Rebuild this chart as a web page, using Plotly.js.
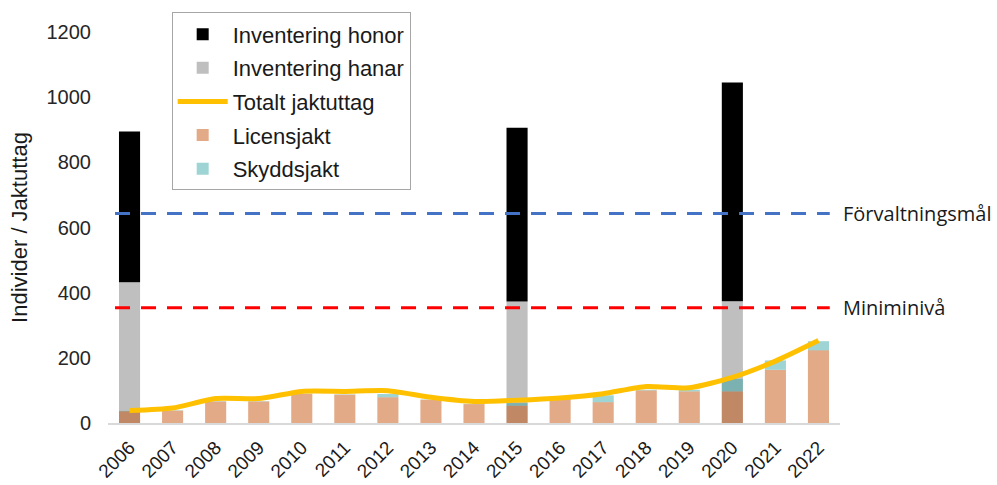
<!DOCTYPE html>
<html><head><meta charset="utf-8">
<script src="https://cdn.plot.ly/plotly-3.0.1.min.js"></script>
<style>html,body{margin:0;padding:0;background:#fff}#chart{width:997px;height:485px}</style>
</head><body><div id="chart"></div>
<script>
const years = ['2006','2007','2008','2009','2010','2011','2012','2013','2014','2015','2016','2017','2018','2019','2020','2021','2022'];
const inventeringHanar = [432,null,null,null,null,null,null,null,null,373,null,null,null,null,374,null,null];
const inventeringHonor = [463,null,null,null,null,null,null,null,null,533,null,null,null,null,671,null,null];
const licensjakt = [36,38,66,66,89,87,79,71,58,53,74,64,100,97,97,163,223];
const skyddsjakt = [1,1,1,1,1,1,10,1,1,8,1,21,2,5,38,29,28];
const totaltJaktuttag = [38,46,75,75,97,97,99,79,66,70,77,90,112,108,140,190,253];
const forvaltningsmal = 643;
const miniminiva = 354;

const W = 0.49;
const honorBase = inventeringHanar.map(v => v);
const skyddsBase = licensjakt.map(v => v);

const traces = [
  {type:'bar', name:'Inventering hanar', x:years, y:inventeringHanar, width:W,
   marker:{color:'#BFBFBF'}, legendrank:2, legendgroup:'b', hoverinfo:'skip'},
  {type:'bar', name:'Inventering honor', x:years, y:inventeringHonor, base:honorBase, width:W,
   marker:{color:'#000000'}, legendrank:1, legendgroup:'a', hoverinfo:'skip'},
  {type:'bar', name:'Licensjakt', x:years, y:licensjakt, width:W,
   marker:{color:'rgba(195,78,5,0.48)'}, legendrank:4, legendgroup:'d', hoverinfo:'skip'},
  {type:'bar', name:'Skyddsjakt', x:years, y:skyddsjakt, base:skyddsBase, width:W,
   marker:{color:'rgba(40,160,160,0.45)'}, legendrank:5, legendgroup:'e', hoverinfo:'skip'},
  {type:'scatter', mode:'lines', name:'Totalt jaktuttag', x:years, y:totaltJaktuttag,
   line:{color:'#FFC000', width:5, shape:'spline', smoothing:0.6}, legendrank:3, legendgroup:'c', hoverinfo:'skip'}
];

const layout = {
  width:997, height:485,
  margin:{l:108, r:157, t:32, b:62},
  paper_bgcolor:'#fff', plot_bgcolor:'#fff',
  barmode:'overlay',
  showlegend:true,
  font:{family:'Liberation Sans, Arial, sans-serif', color:'#262626'},
  legend:{x:0.087, y:1.05, xanchor:'left', yanchor:'top', bgcolor:'#fff',
    bordercolor:'#A6A6A6', borderwidth:1, font:{size:22, color:'#1a1a1a'},
    traceorder:'grouped', tracegroupgap:2, itemwidth:50},
  xaxis:{type:'category', categoryorder:'array', categoryarray:years, range:[-0.5,16.5],
    tickangle:-45, tickfont:{size:19, color:'#1a1a1a'}, showline:true, linecolor:'#D9D9D9', linewidth:2,
    showgrid:false, zeroline:false, ticks:'', ticklabelstandoff:4},
  yaxis:{range:[0,1200], dtick:200, tickfont:{size:20, color:'#262626'}, showgrid:false, zeroline:false,
    showline:false, ticks:'', ticklabelstandoff:16,
    title:{text:'Individer / Jaktuttag', font:{size:22, color:'#1a1a1a'}, standoff:12}},
  shapes:[
    {type:'line', xref:'paper', yref:'y', x0:0.0096, x1:0.986, y0:forvaltningsmal, y1:forvaltningsmal,
     line:{color:'#4472C4', width:3, dash:'15px,11px'}},
    {type:'line', xref:'paper', yref:'y', x0:0.0096, x1:0.986, y0:miniminiva, y1:miniminiva,
     line:{color:'#FF0000', width:3, dash:'15px,11px'}}
  ],
  annotations:[
    {xref:'paper', yref:'y', x:1.002, y:forvaltningsmal, xanchor:'left', yanchor:'middle', showarrow:false,
     text:'Förvaltningsmål', font:{family:'Open Sans, sans-serif', size:20, color:'#1a1a1a'}},
    {xref:'paper', yref:'y', x:1.002, y:miniminiva, xanchor:'left', yanchor:'middle', showarrow:false,
     text:'Miniminivå', font:{family:'Open Sans, sans-serif', size:20, color:'#1a1a1a'}}
  ]
};
Plotly.newPlot('chart', traces, layout, {displayModeBar:false, staticPlot:true});
</script></body></html>
